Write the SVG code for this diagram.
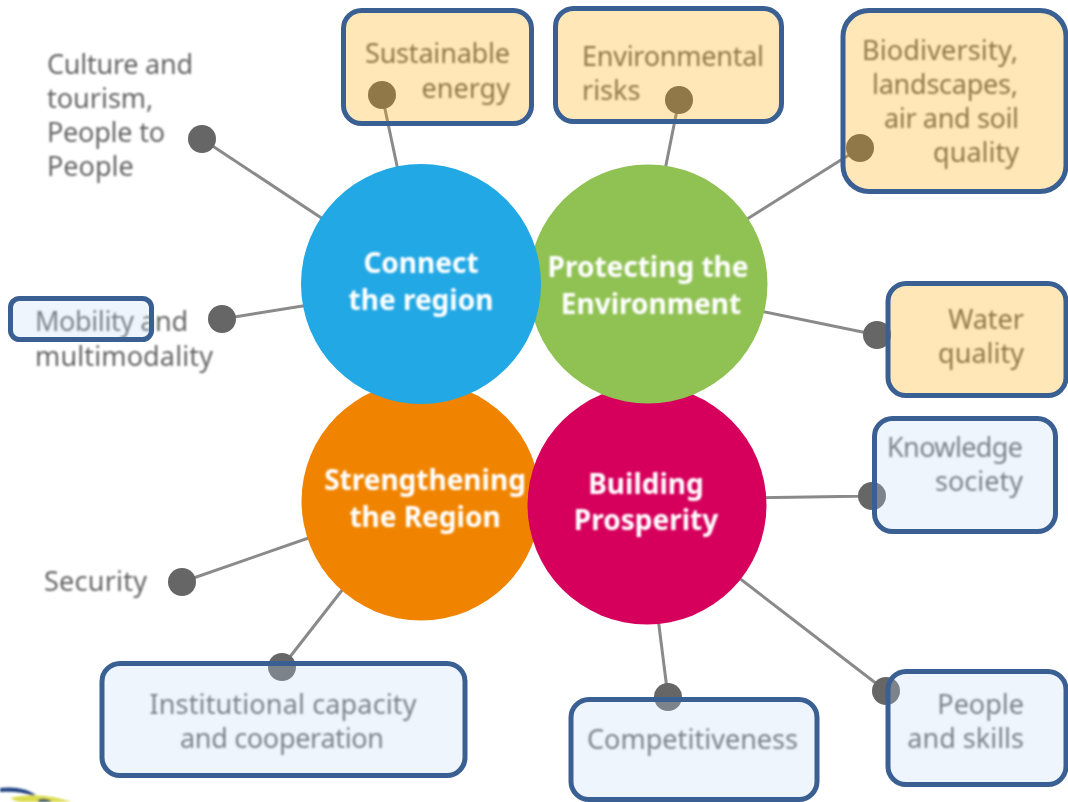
<svg xmlns="http://www.w3.org/2000/svg" width="1068" height="802" viewBox="0 0 1068 802">
<defs>
<filter id="soft" x="-10%" y="-30%" width="120%" height="160%"><feGaussianBlur stdDeviation="0.9"/></filter>
<filter id="softer" x="-10%" y="-10%" width="120%" height="120%"><feGaussianBlur stdDeviation="0.7"/></filter>
<filter id="blurLogo" x="-20%" y="-50%" width="140%" height="200%"><feGaussianBlur stdDeviation="1.2"/></filter>
</defs>
<style>
text{font-family:"Noto Sans","DejaVu Sans",sans-serif;font-size:27px}
.lab{fill:#666;filter:url(#soft)}
.hub{fill:#fff;font-weight:700;font-size:28px;text-anchor:middle;filter:url(#soft)}
.r{text-anchor:end}.m{text-anchor:middle}
.dot{fill:#666;filter:url(#softer)}
.c{filter:url(#softer)}
.box{stroke:#3a5f92;stroke-width:5}
.w{fill:#ffaa00;fill-opacity:.28}
.b{fill:#bcd7f2;fill-opacity:.26}
#connectors line{stroke:#8a8a8a;stroke-width:3;filter:url(#softer)}
</style>
<rect width="1068" height="802" fill="#fff"/>
<g id="logo" filter="url(#blurLogo)"><path d="M0 788C14 786 28 789 36 795L33 796C24 792 12 791 0 792Z" fill="#1f3f80"/><path d="M10 798C30 793 52 795 72 802H20C16 801 13 800 10 798Z" fill="#dcdc50"/><path d="M38 800C42 798 48 798 52 802H38Z" fill="#3a5560"/></g>
<g id="connectors">
<line x1="202" y1="139" x2="335" y2="227"/>
<line x1="382" y1="95" x2="400" y2="180"/>
<line x1="679" y1="100" x2="663" y2="180"/>
<line x1="860" y1="148" x2="736" y2="226"/>
<line x1="877" y1="335" x2="750" y2="309"/>
<line x1="872" y1="496" x2="750" y2="498"/>
<line x1="886" y1="691" x2="730" y2="571"/>
<line x1="668" y1="697" x2="657" y2="610"/>
<line x1="282" y1="667" x2="350" y2="580"/>
<line x1="182" y1="582" x2="320" y2="534"/>
<line x1="222" y1="319" x2="315" y2="304"/>
</g>
<g id="hub-strengthening"><circle class="c" cx="421" cy="501" r="119.500" fill="#f08400"/></g>
<g id="hub-prosperity"><circle class="c" cx="647" cy="505" r="119.500" fill="#d6005c"/></g>
<g id="hub-environment"><circle class="c" cx="648" cy="284" r="119.500" fill="#90c152"/></g>
<g id="hub-connect"><circle class="c" cx="421" cy="284" r="120" fill="#20a8e4"/></g>
<g id="node-culture"><circle class="dot" cx="202" cy="139" r="14"/>
<text class="lab" x="47" y="74" textLength="146">Culture and</text><text class="lab" x="47" y="108">tourism,</text><text class="lab" x="47" y="142" textLength="118">People to</text><text class="lab" x="47" y="176">People</text></g>
<g id="node-mobility"><circle class="dot" cx="222" cy="319" r="14"/>
<text class="lab" x="35" y="331" textLength="153">Mobility and</text><text class="lab" x="35" y="366" textLength="178">multimodality</text>
<rect class="box b" x="10.500" y="298.500" width="141" height="41" rx="9"/></g>
<g id="node-security"><circle class="dot" cx="182" cy="582" r="14"/><text class="lab" x="44" y="591" textLength="103">Security</text></g>
<g id="node-sustainable"><circle class="dot" cx="382" cy="95" r="14"/>
<text class="lab" x="365" y="63" textLength="145">Sustainable</text><text class="lab r" x="510" y="98">energy</text>
<rect class="box w" x="343.500" y="10.500" width="188" height="113" rx="18"/></g>
<g id="node-risks"><circle class="dot" cx="679" cy="100" r="14"/>
<text class="lab" x="582" y="66" textLength="182">Environmental</text><text class="lab" x="582" y="100">risks</text>
<rect class="box w" x="555.500" y="8.500" width="226" height="113" rx="18"/></g>
<g id="node-biodiversity"><circle class="dot" cx="860" cy="148" r="14"/>
<text class="lab" x="862" y="60" textLength="156">Biodiversity,</text><text class="lab" x="872" y="94" textLength="146">landscapes,</text><text class="lab" x="884" y="128" textLength="135">air and soil</text><text class="lab r" x="1019" y="162">quality</text>
<rect class="box w" x="843" y="10.500" width="223" height="181" rx="26"/></g>
<g id="node-water"><circle class="dot" cx="877" cy="335" r="14"/>
<text class="lab r" x="1024" y="329">Water</text><text class="lab r" x="1024" y="363">quality</text>
<rect class="box w" x="888" y="283.500" width="178" height="112" rx="18"/></g>
<g id="node-knowledge"><circle class="dot" cx="872" cy="496" r="14"/>
<text class="lab" x="887" y="457" textLength="136">Knowledge</text><text class="lab r" x="1023" y="491">society</text>
<rect class="box b" x="874.500" y="418.500" width="181" height="113" rx="18"/></g>
<g id="node-people"><circle class="dot" cx="886" cy="691" r="14"/>
<text class="lab r" x="1024" y="714">People</text><text class="lab r" x="1024" y="748">and skills</text>
<rect class="box b" x="888" y="671.500" width="178" height="113" rx="18"/></g>
<g id="node-competitiveness"><circle class="dot" cx="668" cy="697" r="14"/>
<text class="lab" x="587" y="749" textLength="211">Competitiveness</text>
<rect class="box b" x="571" y="699.500" width="246" height="100" rx="18"/></g>
<g id="node-institutional"><circle class="dot" cx="282" cy="667" r="14"/>
<text class="lab m" x="283" y="714" textLength="267">Institutional capacity</text><text class="lab m" x="282" y="748" textLength="204">and cooperation</text>
<rect class="box b" x="102" y="663.500" width="363" height="112" rx="18"/></g>
<g id="hub-labels">
<text class="hub" x="421" y="273">Connect</text><text class="hub" x="421" y="310">the region</text>
<text class="hub" x="648" y="277">Protecting the</text><text class="hub" x="651" y="314">Environment</text>
<text class="hub" x="425" y="490">Strengthening</text><text class="hub" x="425" y="527">the Region</text>
<text class="hub" x="646" y="494">Building</text><text class="hub" x="646" y="530">Prosperity</text>
</g>
</svg>
